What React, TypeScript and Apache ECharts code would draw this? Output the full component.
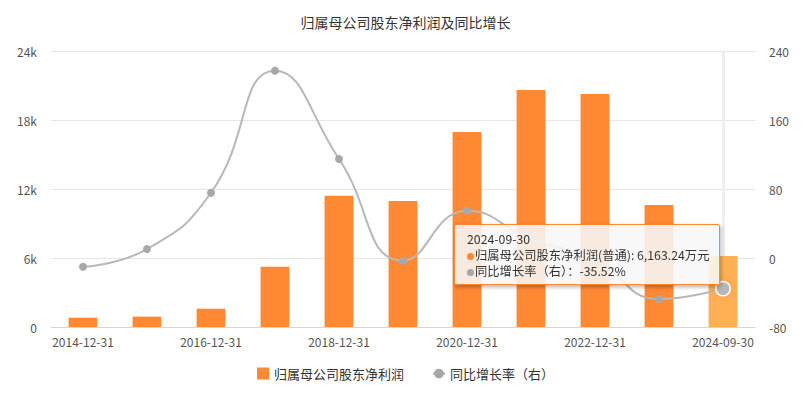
import React, { useEffect, useRef } from "react";
import * as echarts from "echarts";

const categories = [
  "2014-12-31", "2015-12-31", "2016-12-31", "2017-12-31", "2018-12-31",
  "2019-12-31", "2020-12-31", "2021-12-31", "2022-12-31", "2023-12-31", "2024-09-30",
];
const profitValues = [810, 900, 1590, 5240, 11420, 10960, 16960, 20610, 20260, 10610, 6163.24];
const growthValues = [-10.1, 10.4, 75.7, 217.2, 114.8, -3.1, 54.9, 21.5, -1.7, -47.6, -35.52];
const leftTicks = { min: 0, max: 24000, interval: 6000 };
const rightTicks = { min: -80, max: 240, interval: 80 };
const titleText = "归属母公司股东净利润及同比增长";
const barName = "归属母公司股东净利润";
const lineName = "同比增长率（右）";

const FONT = "'Noto Sans CJK SC', 'Noto Sans', sans-serif";

export default function App() {
  const ref = useRef<HTMLDivElement>(null);
  useEffect(() => {
    document.body.style.margin = "0";
    const chart = echarts.init(ref.current!, null, { renderer: "svg" });
    const last = categories.length - 1;
    const barData = profitValues.map((v, i) =>
      i === last ? { value: v, itemStyle: { color: "#ffa04d" } } : v
    );
    const lineData = growthValues.map((v, i) =>
      i === last
        ? {
            value: v,
            symbolSize: 13,
            itemStyle: {
              color: "#a8a8a8",
              borderColor: "#fff",
              borderWidth: 1.5,
              shadowBlur: 8,
              shadowColor: "rgba(255,140,60,0.6)",
            },
          }
        : v
    );
    chart.setOption({
      animation: false,
      textStyle: { fontFamily: FONT },
      title: {
        text: titleText,
        left: "center",
        top: 10,
        textStyle: { fontSize: 14, fontWeight: "normal", color: "#333", fontFamily: FONT },
      },
      grid: { left: 51, right: 56, top: 51, bottom: 70 },
      tooltip: {
        trigger: "axis",
        alwaysShowContent: true,
        axisPointer: { type: "line", z: 1, lineStyle: { color: "#edf1f6", width: 3, type: "solid" } },
        backgroundColor: "rgba(247,247,247,0.88)",
        borderColor: "#ff8833",
        borderWidth: 1,
        padding: [6, 10, 5, 12],
        extraCssText: "box-shadow: 1px 2px 4px rgba(0,0,0,0.3); border-radius: 2px; line-height: 16px;",
        textStyle: { color: "#333", fontSize: 12.3, fontFamily: FONT },
        position: () => [454, 224],
        formatter: (params: any) => {
          const p = Array.isArray(params) ? params : [params];
          const idx = p[0].dataIndex;
          const dot = (c: string) =>
            `<span style="display:inline-block;width:7px;height:7px;border-radius:50%;background:${c};margin-right:1px;vertical-align:middle"></span>`;
          const v = profitValues[idx].toLocaleString("en-US", { minimumFractionDigits: 2, maximumFractionDigits: 2 });
          return `${categories[idx]}<br/>${dot("#ff8833")}归属母公司股东净利润(普通): ${v}万元<br/>${dot("#a8a8a8")}同比增长率（右）：${growthValues[idx].toFixed(2)}%`;
        },
      },
      legend: {
        bottom: 12,
        left: "center",
        itemWidth: 12,
        itemHeight: 12,
        itemGap: 28,
        textStyle: { color: "#333", fontSize: 13, fontFamily: FONT },
        data: [
          { name: barName, icon: "rect" },
          { name: lineName },
        ],
      },
      xAxis: {
        type: "category",
        data: categories,
        boundaryGap: true,
        axisLine: { lineStyle: { color: "#ccd6eb" } },
        axisTick: { alignWithLabel: true, interval: 1, lineStyle: { color: "#ccd6eb" } },
        axisLabel: { interval: 1, color: "#555", fontSize: 12, margin: 8 },
      },
      yAxis: [
        {
          type: "value",
          ...leftTicks,
          axisLine: { show: false },
          axisTick: { show: false },
          axisLabel: {
            color: "#555",
            fontSize: 12,
            margin: 14,
            formatter: (v: number) => (v === 0 ? "0" : v / 1000 + "k"),
          },
          splitLine: { lineStyle: { color: "#e6e6e6" } },
        },
        {
          type: "value",
          ...rightTicks,
          axisLine: { show: false },
          axisTick: { show: false },
          axisLabel: { color: "#555", fontSize: 12, margin: 14 },
          splitLine: { show: false },
        },
      ],
      series: [
        {
          name: barName,
          type: "bar",
          yAxisIndex: 0,
          barWidth: "45%",
          z: 3,
          itemStyle: { color: "#ff8833" },
          data: barData,
        },
        {
          name: lineName,
          type: "line",
          yAxisIndex: 1,
          smooth: true,
          z: 4,
          symbol: "circle",
          symbolSize: 8,
          itemStyle: { color: "#a8a8a8" },
          lineStyle: { color: "#a8a8a8", width: 2 },
          data: lineData,
        },
      ],
    });
    chart.dispatchAction({ type: "showTip", seriesIndex: 0, dataIndex: last });
    return () => chart.dispose();
  }, []);
  return <div ref={ref} style={{ width: 811, height: 397 }} />;
}
